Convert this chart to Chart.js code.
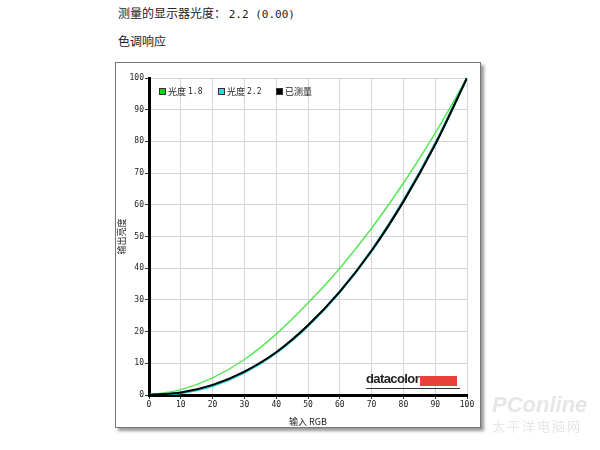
<!DOCTYPE html>
<html>
<head>
<meta charset="utf-8">
<script src="https://cdn.jsdelivr.net/npm/chart.js@4.4.0/dist/chart.umd.min.js"></script>
<style>
    body { margin: 0; background: #fff; font-family: "Noto Sans CJK SC", sans-serif; }
    #page { position: relative; width: 600px; height: 450px; overflow: hidden; }
    .head { position: absolute; left: 118px; font-size: 12px; color: #222; }
    .head .mono { font-family: "DejaVu Sans Mono", monospace; font-size: 11px; }
    #frame {
        position: absolute; left: 115px; top: 62px; width: 364px; height: 364px;
        border: 1px solid #777; background: #fff; box-shadow: 3px 3px 3px #999;
    }
    #chart-box { position: absolute; left: 0; top: 0; width: 364px; height: 364px; }
    #logo { position: absolute; left: 250px; top: 308px; width: 94px; height: 20px; white-space: nowrap; }
    #logo span { display: inline-block; vertical-align: top; font: bold 13px "Liberation Sans", Arial, sans-serif; color: #222; letter-spacing: -0.6px; line-height: 16px; }
    #logo .bar { display: inline-block; vertical-align: top; margin-top: 5px; margin-left: 1px; width: 37px; height: 10px; background: #e8413c; }
    #logo .line { position: absolute; left: 0; top: 17px; width: 94px; height: 1px; background: #333; }
    #wm { position: absolute; left: 492px; top: 392px; color: #e6e6e6; font: italic bold 22px "Liberation Sans", Arial, sans-serif; }
    #wm2 { position: absolute; left: 492px; top: 416px; color: #e6e6e6; font-size: 13px; letter-spacing: 2px; }
</style>
</head>
<body>
<div id="page">
    <div class="head" style="top:4px;">测量的显示器光度： <span class="mono">2.2 (0.00)</span></div>
    <div class="head" style="top:32px;">色调响应</div>
    <div id="frame">
        <div id="chart-box"><canvas id="gamma-chart" width="364" height="364"></canvas></div>
        <div id="logo"><span>datacolor</span><div class="bar"></div><div class="line"></div></div>
    </div>
    <div id="wm">PConline</div>
    <div id="wm2">太平洋电脑网</div>
</div>
<script>
// Input levels (x axis) and the three curves
const inputRGB = [0, 10, 20, 30, 40, 50, 60, 70, 80, 90, 100];
const gamma18 = [0, 1.7, 5.4, 11.2, 19.2, 29.0, 40.0, 52.6, 66.8, 82.6, 100];
const gamma22 = [0, 0.6, 2.9, 7.1, 13.3, 21.8, 32.5, 45.6, 61.2, 79.3, 100];
const measured = [0, 0.8, 3.2, 7.4, 13.5, 22.0, 32.6, 45.5, 61.0, 79.0, 100];
const seriesNames = ['光度 1.8', '光度 2.2', '已测量'];
const legendColors = ['#10d010', '#20e0e0', '#000000'];
const tickValues = [0, 10, 20, 30, 40, 50, 60, 70, 80, 90, 100];

const monoFont = { family: '"DejaVu Sans Mono", monospace', size: 8 };

function toPoints(ys) {
    return inputRGB.map((x, i) => ({ x: x, y: ys[i] }));
}

// Legend drawn inside the plot area, top-left
const innerLegend = {
    id: 'innerLegend',
    afterDraw(chart) {
        const ctx = chart.ctx;
        const area = chart.chartArea;
        const offsets = [10, 69, 127];
        ctx.save();
        seriesNames.forEach((name, i) => {
            const x = area.left + offsets[i];
            const y = area.top + 10;
            ctx.fillStyle = legendColors[i];
            ctx.fillRect(x, y, 6, 6);
            ctx.strokeStyle = '#333';
            ctx.lineWidth = 1;
            ctx.strokeRect(x + 0.5, y + 0.5, 6, 6);
            ctx.fillStyle = '#222';
            ctx.textBaseline = 'middle';
            ctx.font = '9px "Noto Sans CJK SC", sans-serif';
            const parts = name.split(' ');
            ctx.fillText(parts[0], x + 9, y + 3.5);
            if (parts[1]) {
                const w = ctx.measureText(parts[0]).width;
                ctx.font = '8px "DejaVu Sans Mono", monospace';
                ctx.fillText(parts[1], x + 11 + w, y + 3.5);
            }
        });
        ctx.restore();
    }
};

new Chart(document.getElementById('gamma-chart'), {
    type: 'line',
    data: {
        datasets: [
            { label: seriesNames[0], data: toPoints(gamma18), borderColor: '#55e855', borderWidth: 1.5, order: 2 },
            { label: seriesNames[1], data: toPoints(gamma22), borderColor: '#10c8c8', borderWidth: 2.5, order: 1 },
            { label: seriesNames[2], data: toPoints(measured), borderColor: '#000000', borderWidth: 2, order: 0 }
        ]
    },
    options: {
        responsive: false,
        animation: false,
        cubicInterpolationMode: 'monotone',
        elements: { point: { radius: 0 } },
        layout: { padding: { left: 0, top: 15, right: 13, bottom: 0 } },
        plugins: { legend: { display: false }, tooltip: { enabled: false } },
        scales: {
            x: {
                type: 'linear', min: 0, max: 100,
                afterBuildTicks: s => { s.ticks = tickValues.map(v => ({ value: v })); },
                afterFit: s => { s.height = 32; },
                grid: { color: '#d4d4d4', tickColor: '#333', tickLength: 4, lineWidth: 1 },
                border: { color: '#000', width: 3 },
                ticks: { color: '#222', font: monoFont, padding: 1, maxRotation: 0 },
                title: { display: true, text: '输入 RGB', color: '#222', font: { family: '"Noto Sans CJK SC", sans-serif', size: 9 }, padding: 0 }
            },
            y: {
                min: 0, max: 100,
                afterBuildTicks: s => { s.ticks = tickValues.map(v => ({ value: v })); },
                afterFit: s => { s.width = 33; },
                grid: { color: '#d4d4d4', tickColor: '#333', tickLength: 4, lineWidth: 1 },
                border: { color: '#000', width: 3 },
                ticks: { color: '#222', font: monoFont, padding: 1 },
                title: { display: true, text: '输出亮度', color: '#222', font: { family: '"Noto Sans CJK SC", sans-serif', size: 9 }, padding: 0 }
            }
        }
    },
    plugins: [innerLegend]
});
</script>
</body>
</html>
